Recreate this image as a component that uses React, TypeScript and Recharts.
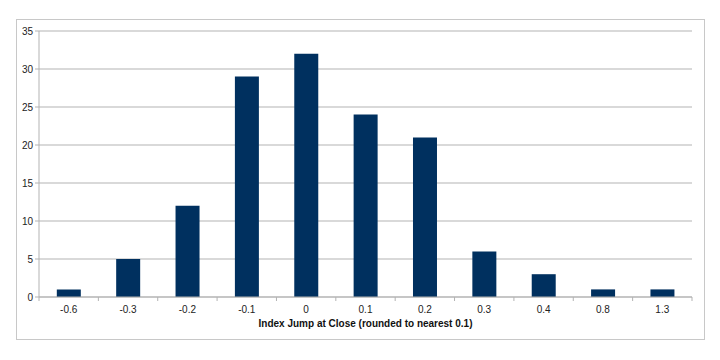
import { BarChart, Bar, XAxis, YAxis, CartesianGrid } from 'recharts'

// Histogram of index jumps at the close
const categories = ['-0.6', '-0.3', '-0.2', '-0.1', '0', '0.1', '0.2', '0.3', '0.4', '0.8', '1.3']
const counts = [1, 5, 12, 29, 32, 24, 21, 6, 3, 1, 1]
const yTicks = [0, 5, 10, 15, 20, 25, 30, 35]

const data = categories.map((name, i) => ({ name, value: counts[i] }))

const CHART_W = 704
const CHART_H = 344
const MARGIN = { top: 23, right: 20, left: 0, bottom: 10 }
const Y_AXIS_W = 31
const BAND = (CHART_W - MARGIN.left - MARGIN.right - Y_AXIS_W) / categories.length

const FONT = '"Liberation Sans", Arial, sans-serif'
const GRID = '#b3b3b3'
const BAR = '#00305f'

// X tick: label centred, tick marks sit between categories
function XTick(props: any) {
  const { x, y, payload, index } = props
  const isLast = index === categories.length - 1
  return (
    <g>
      <line x1={x - BAND / 2} x2={x - BAND / 2} y1={y - 8} y2={y - 4} stroke={GRID} />
      {isLast && <line x1={x + BAND / 2} x2={x + BAND / 2} y1={y - 8} y2={y - 4} stroke={GRID} />}
      <text x={x} y={y + 8} textAnchor="middle" fontSize={10} fill="#222" fontFamily={FONT}>
        {payload.value}
      </text>
    </g>
  )
}

export default function App() {
  return (
    <div style={{ position: 'relative', width: CHART_W, height: CHART_H }}>
      <div
        style={{
          position: 'absolute',
          left: 8,
          top: 11,
          width: 687,
          height: 319,
          border: '1px solid #c8c8c8',
        }}
      />
      <BarChart
        width={CHART_W}
        height={CHART_H}
        data={data}
        margin={MARGIN}
        barCategoryGap="30%"
        style={{ position: 'absolute', left: 0, top: 0 }}
      >
        <CartesianGrid stroke={GRID} vertical={false} />
        {/* right border of plot area */}
        <YAxis
          yAxisId="right"
          orientation="right"
          width={0}
          tick={false}
          tickLine={false}
          axisLine={{ stroke: GRID }}
        />
        <XAxis
          dataKey="name"
          axisLine={{ stroke: GRID }}
          tickLine={false}
          interval={0}
          tick={<XTick />}
          height={45}
          label={{
            value: 'Index Jump at Close (rounded to nearest 0.1)',
            position: 'insideBottom',
            offset: 15,
            fontSize: 10,
            fontWeight: 'bold',
            fill: '#111',
            fontFamily: FONT,
          }}
        />
        <YAxis
          width={Y_AXIS_W}
          domain={[0, 35]}
          ticks={yTicks}
          interval={0}
          axisLine={{ stroke: GRID }}
          tickLine={{ stroke: GRID }}
          tickSize={4}
          tick={{ fontSize: 10, fill: '#222', fontFamily: FONT }}
        />
        <Bar dataKey="value" fill={BAR} isAnimationActive={false} />
      </BarChart>
    </div>
  )
}
